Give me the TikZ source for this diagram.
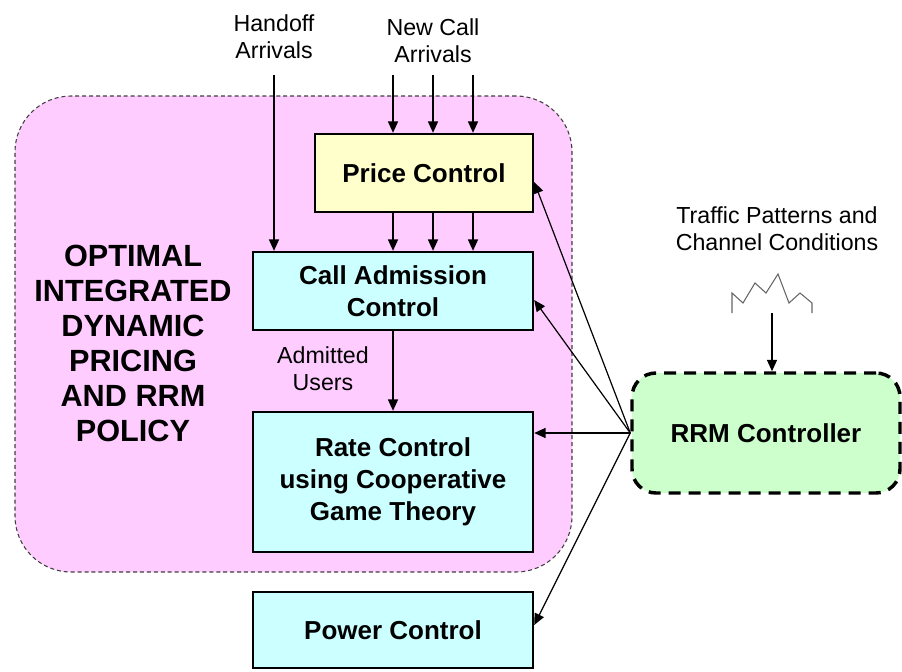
\documentclass[tikz,border=0pt]{standalone}
\usepackage{fontspec}
\setmainfont{Liberation Sans}
\usetikzlibrary{arrows.meta,calc}
\definecolor{policypink}{RGB}{255,204,255}
\definecolor{priceyellow}{RGB}{255,255,204}
\definecolor{ctrlcyan}{RGB}{204,255,255}
\definecolor{rrmgreen}{RGB}{204,255,204}
\begin{document}
\begin{tikzpicture}[x=0.75pt,y=-0.75pt,
  block/.style={draw=black,line width=1.8pt,align=center,inner sep=0pt,
    font=\bfseries\fontsize{19.5}{24}\selectfont},
  flow/.style={-{Triangle[length=8.5pt,width=7.5pt]},line width=0.9pt},
  lbl/.style={align=center,inner sep=0pt,font=\fontsize{17.4}{20.5}\selectfont}]
\useasboundingbox (0,0) rectangle (902,671);

% policy region
\node[draw=black!75,fill=policypink,dash pattern=on 3pt off 2.2pt,line width=0.8pt,
      rounded corners=42pt,minimum width=417.75pt,minimum height=357pt,inner sep=0pt]
      (policy) at (293.5,334) {};
\node[align=center,inner sep=0pt,font=\bfseries\fontsize{23}{26.25}\selectfont]
      (policytitle) at (133,343) {OPTIMAL\\INTEGRATED\\DYNAMIC\\PRICING\\AND RRM\\POLICY};

% control blocks
\node[block,fill=priceyellow,minimum width=163.5pt,minimum height=58.5pt] (price) at (424,173) {Price Control};
\node[block,fill=ctrlcyan,minimum width=210pt,minimum height=58.5pt] (cac) at (393,291) {Call Admission\\Control};
\node[block,fill=ctrlcyan,minimum width=210pt,minimum height=105pt] (rate) at (393,482) {Rate Control\\using Cooperative\\Game Theory};
\node[block,fill=ctrlcyan,minimum width=210pt,minimum height=57pt] (power) at (393,630) {Power Control};
\node[block,fill=rrmgreen,line width=2.6pt,dash pattern=on 9pt off 6pt,rounded corners=18pt,
      minimum width=201pt,minimum height=90pt] (rrm) at (766,433) {RRM Controller};

% labels
\node[lbl] (handofflbl) at (274,37) {Handoff\\Arrivals};
\node[lbl] (newcalllbl) at (433,41) {New Call\\Arrivals};
\node[lbl] (trafficlbl) at (777,229) {Traffic Patterns and\\Channel Conditions};
\node[lbl] (admittedlbl) at (323,369) {Admitted\\Users};

% arrival feeds
\coordinate (ho) at (274,75);
\coordinate (nc1) at (393,75);
\coordinate (nc2) at (433,75);
\coordinate (nc3) at (473,75);
\draw[flow] (ho) -- (ho |- cac.north);
\foreach \c in {nc1,nc2,nc3}{
  \draw[flow] (\c) -- (\c |- price.north);
  \draw[flow] (\c |- price.south) -- (\c |- cac.north);
}
\draw[flow] (cac) -- (rate);

% traffic trace
\draw[black!60,line width=0.8pt]
  (732,313) -- (732,293) -- (743,303) -- (755,283) -- (766,293) -- (778,274)
  -- (789,303) -- (800,293) -- (812,303) -- (812,313);
\coordinate (trace) at (772,313);
\draw[flow] (trace) -- (trace |- rrm.north);

% controller outputs
\draw[flow] (rrm.west) -- ($(price.east)+(0,9)$);
\draw[flow] (rrm.west) -- ($(cac.east)+(0,9)$);
\draw[flow] (rrm.west) -- (rrm.west -| rate.east);
\draw[flow] (rrm.west) -- ($(power.east)+(0,-5)$);
\end{tikzpicture}
\end{document}
